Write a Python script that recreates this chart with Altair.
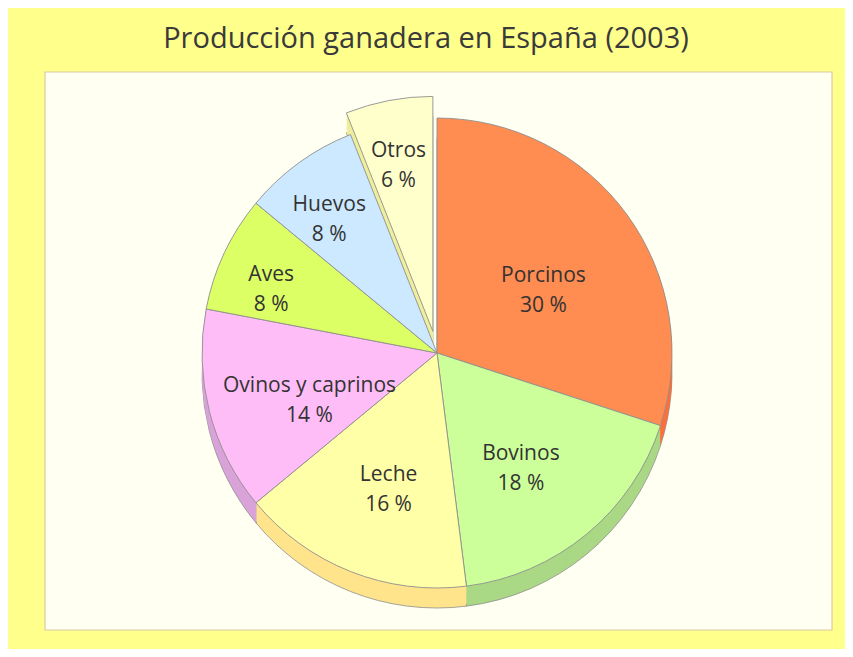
import math
import altair as alt
import pandas as pd

title_text = ["Producción ganadera en España (2003)"]
categories = ["Porcinos", "Bovinos", "Leche", "Ovinos y caprinos", "Aves", "Huevos", "Otros"]
values = [30, 18, 16, 14, 8, 8, 6]
top_colors = ["#ff8c50", "#ccff99", "#ffffa8", "#ffbdf7", "#ddff66", "#cce9ff", "#ffffcc"]
side_colors = ["#ff6f3c", "#aad885", "#ffe48c", "#d9a3d9", "#b3d552", "#a9c4e2", "#eeee9c"]

W, H = 837, 641
CX, CY, R = 429, 345, 235
DEPTH = 20

df = pd.DataFrame({
    "category": categories,
    "value": values,
    "order": list(range(len(categories))),
    "top": top_colors,
    "side": side_colors,
})

theta_scale = alt.Scale(domain=[0, 100], range=[0, 2 * math.pi])


def pie_base():
    return (
        alt.Chart(df)
        .transform_window(cum="sum(value)", sort=[alt.SortField("order")], frame=[None, 0])
        .transform_calculate(
            start="datum.cum - datum.value",
            mid="(datum.cum - datum.value / 2) / 100 * 2 * PI",
            ex="datum.category == 'Otros' ? 22 : 0",
        )
        .transform_calculate(
            px=f"{CX} + datum.ex * sin(datum.mid)",
            py=f"{CY} - datum.ex * cos(datum.mid)",
        )
    )


layers = []

bg = alt.Chart(pd.DataFrame({"a": [0]})).mark_rect(
    fill="#fffff2", stroke="#dcc9a6", strokeWidth=1.2
).encode(x=alt.value(37), x2=alt.value(824), y=alt.value(64), y2=alt.value(622))
layers.append(bg)

title = alt.Chart(pd.DataFrame({"t": title_text})).mark_text(
    font="Open Sans", fontSize=29, color="#3a3a3a", baseline="middle", align="center"
).encode(x=alt.value(418), y=alt.value(31), text="t:N")
layers.append(title)

for k in list(range(DEPTH, 0, -2)):
    side = pie_base().transform_calculate(pyk=f"datum.py + {k}").mark_arc(
        radius=R,
        stroke="#8f8f8f" if k == DEPTH else None,
        strokeWidth=0.8 if k == DEPTH else 0,
    ).encode(
        x=alt.X("px:Q", scale=None, axis=None),
        y=alt.Y("pyk:Q", scale=None, axis=None),
        theta=alt.Theta("start:Q", scale=theta_scale),
        theta2="cum:Q",
        fill=alt.Fill("side:N", scale=None),
    )
    layers.append(side)

top = pie_base().mark_arc(radius=R, stroke="#8f8f8f", strokeWidth=0.9).encode(
    x=alt.X("px:Q", scale=None, axis=None),
    y=alt.Y("py:Q", scale=None, axis=None),
    theta=alt.Theta("start:Q", scale=theta_scale),
    theta2="cum:Q",
    fill=alt.Fill("top:N", scale=None),
)
layers.append(top)

labels = (
    pie_base()
    .transform_calculate(
        rf="datum.value < 10 ? 0.78 : 0.56",
        label="datum.category + '\\n' + datum.value + ' %'",
    )
    .transform_calculate(
        lx=f"datum.px + {R} * datum.rf * sin(datum.mid)",
        ly=f"datum.py - {R} * datum.rf * cos(datum.mid)",
    )
    .mark_text(font="Open Sans", fontSize=21, color="#333333", lineBreak="\n",
               align="center", baseline="middle", lineHeight=30)
    .encode(
        x=alt.X("lx:Q", scale=None, axis=None),
        y=alt.Y("ly:Q", scale=None, axis=None),
        text="label:N",
    )
)
layers.append(labels)

chart = (
    alt.layer(*layers)
    .properties(width=W, height=H, padding=0, autosize=alt.AutoSizeParams(type="none"),
                background="#ffff8c")
    .configure_view(strokeWidth=0)
)

chart.save("out.html", embed_options={"renderer": "svg", "actions": False})
